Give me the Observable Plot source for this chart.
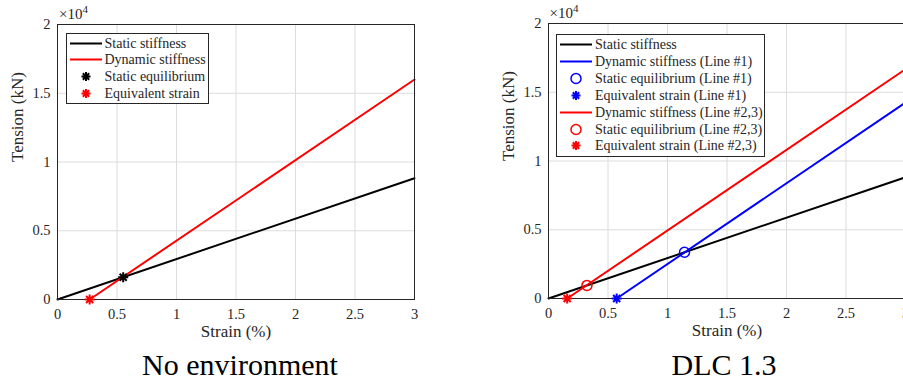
<!DOCTYPE html>
<html><head><meta charset="utf-8">
<script src="https://cdn.jsdelivr.net/npm/d3@7"></script>
<script src="https://cdn.jsdelivr.net/npm/@observablehq/plot@0.6"></script>
<style>
html,body{margin:0;padding:0;background:#fff;}
#wrap{position:relative;width:903px;height:385px;overflow:hidden;font-family:"Liberation Serif","Times New Roman",serif;color:#262626;}
#wrap *{font-family:"Liberation Serif","Times New Roman",serif;}
.panel{position:absolute;top:0;}
.exp{position:absolute;font-size:15px;color:#262626;}
.exp sup{font-size:11px;}
.title{position:absolute;font-size:30px;color:#000;transform:translate(-50%,-50%);white-space:nowrap;}
.legend{position:absolute;background:#fff;border:1px solid #262626;font-size:14px;color:#262626;}
.row{position:absolute;left:0;height:17px;white-space:nowrap;}
.row svg{position:absolute;left:0;top:0;}
.row span{position:absolute;top:0;line-height:17px;}
</style>
</head><body>
<div id="wrap"></div>
<script>
// ---- data ----
const xTicks = [0, 0.5, 1, 1.5, 2, 2.5, 3];
const yTicks = [0, 5000, 10000, 15000, 20000];

const strainStatic = [0, 3];
const tensionStatic = [0, 8820];

// No environment
const strainDynNoEnv = [0.27, 3];
const tensionDynNoEnv = [0, 16000];
const eqNoEnv = [0.552, 1620];
const equivNoEnv = [0.27, 0];

// DLC 1.3 Line #1
const strainDynL1 = [0.573, 3];
const tensionDynL1 = [0, 14250];
const eqL1 = [1.143, 3360];
const equivL1 = [0.573, 0];

// DLC 1.3 Line #2,3
const strainDynL23 = [0.157, 3];
const tensionDynL23 = [0, 16680];
const eqL23 = [0.323, 950];
const equivL23 = [0.157, 0];

const titles = ["No environment", "DLC 1.3"];

// ---- helpers ----
const FONT = '"Liberation Serif","Times New Roman",serif';
const asterisk8 = {draw(ctx, size){
  const r = Math.sqrt(size/Math.PI), d = r*Math.SQRT1_2;
  ctx.moveTo(-r,0);ctx.lineTo(r,0);ctx.moveTo(0,-r);ctx.lineTo(0,r);
  ctx.moveTo(-d,-d);ctx.lineTo(d,d);ctx.moveTo(-d,d);ctx.lineTo(d,-d);
}};
const toRows = (xs, ys, series) => xs.map((x,i)=>({x, y: ys[i], series}));

function panel(lines, points){
  return Plot.plot({
    width: 434, height: 344,
    marginLeft: 57, marginRight: 20, marginTop: 24, marginBottom: 45,
    style: {fontFamily: FONT, fontSize: "14.5px", color: "#262626", background: "transparent", overflow: "visible"},
    x: {domain: [0, 3], ticks: xTicks, tickFormat: d => String(d), tickSize: 0, tickPadding: 9, label: null},
    y: {domain: [0, 20000], ticks: yTicks, tickFormat: d => String(d/1e4), tickSize: 0, tickPadding: 7, label: null},
    marks: [
      Plot.ruleX(xTicks.slice(1,-1), {stroke: "#dcdcdc", strokeWidth: 1}),
      Plot.ruleY(yTicks.slice(1,-1), {stroke: "#dcdcdc", strokeWidth: 1}),
      ...lines.map(l => Plot.line(l.data, {x: "x", y: "y", stroke: l.color, strokeWidth: 2})),
      Plot.frame({stroke: "#262626", strokeWidth: 1}),
      ...points.map(p => Plot.dot([{x: p.pt[0], y: p.pt[1]}], {x: "x", y: "y", stroke: p.color, strokeWidth: p.sym === "circle" ? 1.5 : 2, r: p.sym === "circle" ? 5 : 5, symbol: p.sym === "circle" ? "circle" : asterisk8, fill: "none"})),
      Plot.text(["Strain (%)"], {frameAnchor: "bottom", dy: 37, fontSize: 17, fontFamily: FONT, fill: "#262626"}),
      Plot.text(["Tension (kN)"], {frameAnchor: "left", dx: -40, rotate: -90, fontSize: 17, fontFamily: FONT, fill: "#262626"})
    ]
  });
}

const wrap = document.getElementById("wrap");

const leftPlot = panel(
  [{data: toRows(strainStatic, tensionStatic), color: "#000"},
   {data: toRows(strainDynNoEnv, tensionDynNoEnv), color: "#ff0000"}],
  [{pt: eqNoEnv, color: "#000", sym: "star"},
   {pt: equivNoEnv, color: "#ff0000", sym: "star"}]
);
leftPlot.classList.add("panel");
leftPlot.style.left = "0px";
wrap.appendChild(leftPlot);

const rightPlot = panel(
  [{data: toRows(strainStatic, tensionStatic), color: "#000"},
   {data: toRows(strainDynL1, tensionDynL1), color: "#0000ff"},
   {data: toRows(strainDynL23, tensionDynL23), color: "#ff0000"}],
  [{pt: eqL1, color: "#0000ff", sym: "circle"},
   {pt: equivL1, color: "#0000ff", sym: "star"},
   {pt: eqL23, color: "#ff0000", sym: "circle"},
   {pt: equivL23, color: "#ff0000", sym: "star"}]
);
rightPlot.classList.add("panel");
rightPlot.style.left = "490.5px";
rightPlot.style.top = "-1.3px";
wrap.appendChild(rightPlot);

// exponent labels
[[59, 3], [549.5, 2]].forEach(([l,t]) => {
  const e = document.createElement("div");
  e.className = "exp"; e.style.left = l + "px"; e.style.top = t + "px";
  e.innerHTML = "×10<sup>4</sup>";
  wrap.appendChild(e);
});

// titles
[[240, 365], [724, 365]].forEach(([cx, cy], i) => {
  const t = document.createElement("div");
  t.className = "title"; t.style.left = cx + "px"; t.style.top = cy + "px";
  t.textContent = titles[i];
  wrap.appendChild(t);
});

// legends
function legend(left, top, w, h, items, swL, swR, mk, txt, rowTop, step){
  const box = document.createElement("div");
  box.className = "legend";
  box.style.left = left + "px"; box.style.top = top + "px";
  box.style.width = w + "px"; box.style.height = h + "px";
  items.forEach((it, i) => {
    const r = document.createElement("div");
    r.className = "row"; r.style.top = (rowTop + i*step - 8.5) + "px"; r.style.width = w + "px";
    let g = "";
    if (it.type === "line") g = `<line x1="${swL}" x2="${swR}" y1="8.5" y2="8.5" stroke="${it.color}" stroke-width="2"/>`;
    else if (it.type === "circle") g = `<circle cx="${mk}" cy="8.5" r="5" fill="none" stroke="${it.color}" stroke-width="1.5"/>`;
    else {
      const rr = 4.5, d = rr*Math.SQRT1_2;
      g = `<path d="M${mk-rr},8.5H${mk+rr}M${mk},${8.5-rr}V${8.5+rr}M${mk-d},${8.5-d}L${mk+d},${8.5+d}M${mk-d},${8.5+d}L${mk+d},${8.5-d}" stroke="${it.color}" stroke-width="2"/>`;
    }
    r.innerHTML = `<svg width="${w}" height="17">${g}</svg><span style="left:${txt}px">${it.label}</span>`;
    box.appendChild(r);
  });
  wrap.appendChild(box);
}

legend(66, 33, 141, 69, [
  {type: "line", color: "#000", label: "Static stiffness"},
  {type: "line", color: "#ff0000", label: "Dynamic stiffness"},
  {type: "star", color: "#000", label: "Static equilibrium"},
  {type: "star", color: "#ff0000", label: "Equivalent strain"}
], 3, 35, 19, 37.5, 9, 16.9);

legend(556, 34, 207, 121, [
  {type: "line", color: "#000", label: "Static stiffness"},
  {type: "line", color: "#0000ff", label: "Dynamic stiffness (Line #1)"},
  {type: "circle", color: "#0000ff", label: "Static equilibrium (Line #1)"},
  {type: "star", color: "#0000ff", label: "Equivalent strain (Line #1)"},
  {type: "line", color: "#ff0000", label: "Dynamic stiffness (Line #2,3)"},
  {type: "circle", color: "#ff0000", label: "Static equilibrium (Line #2,3)"},
  {type: "star", color: "#ff0000", label: "Equivalent strain (Line #2,3)"}
], 3, 35, 19, 38, 9.5, 16.9);
</script>
</body></html>
